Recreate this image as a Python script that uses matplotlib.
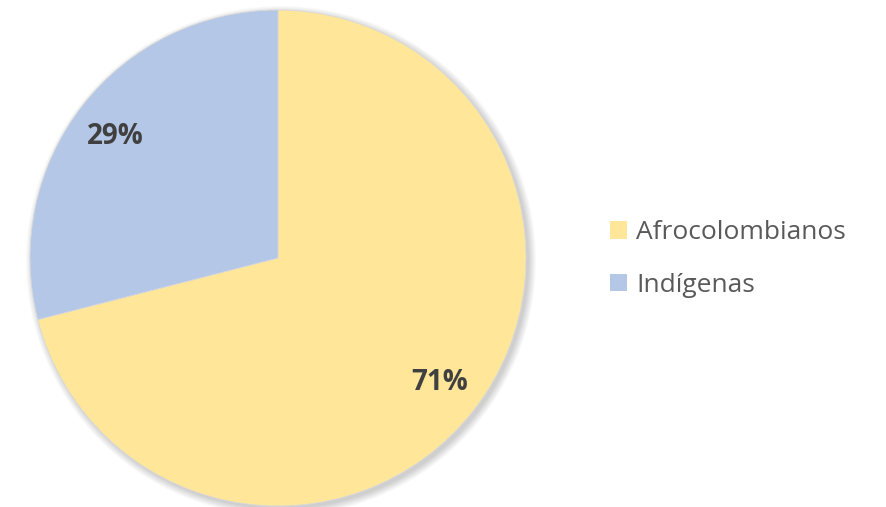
import matplotlib
matplotlib.use("Agg")
import matplotlib.pyplot as plt
from matplotlib.patches import Circle

labels = ["Afrocolombianos", "Indígenas"]
values = [71, 29]
colors = ["#FFE699", "#B4C7E7"]

plt.rcParams['font.family'] = ['Open Sans', 'DejaVu Sans']

fig = plt.figure(figsize=(8.87, 5.07), dpi=100)
ax = fig.add_axes([30 / 887, 1 / 507, 496 / 887, 496 / 507])

wedges, texts = ax.pie(values, colors=colors, startangle=90, counterclock=False,
                       radius=1.0, wedgeprops=dict(edgecolor="#d9d9d9", linewidth=0.6))
for w in wedges:
    w.set_zorder(2)

# soft shadow behind the pie
for i in range(8):
    ax.add_patch(Circle((0.012, -0.012), 1.0 + 0.004 * i, color="black",
                        alpha=0.025, lw=0, zorder=0, clip_on=False))

ax.set_xlim(-1, 1)
ax.set_ylim(-1, 1)
ax.set_aspect("equal")
ax.axis("off")

# percentage labels
total = sum(values)
label_pos = [(0.653, -0.504), (-0.657, 0.488)]
for v, (x, y) in zip(values, label_pos):
    ax.text(x, y, f"{round(100 * v / total)}%", ha="center", va="center",
            fontsize=20, fontweight="bold", color="#404040", zorder=3)

leg = fig.legend(wedges, labels, loc="center left", bbox_to_anchor=(586 / 887, 248 / 507),
                 frameon=False, fontsize=19, handlelength=0.65, handleheight=0.65,
                 handletextpad=0.35, labelspacing=1.05)
for t in leg.get_texts():
    t.set_color("#595959")
for h in leg.legend_handles:
    h.set_edgecolor("none")

fig.savefig("out.png", dpi=100, facecolor="white")
